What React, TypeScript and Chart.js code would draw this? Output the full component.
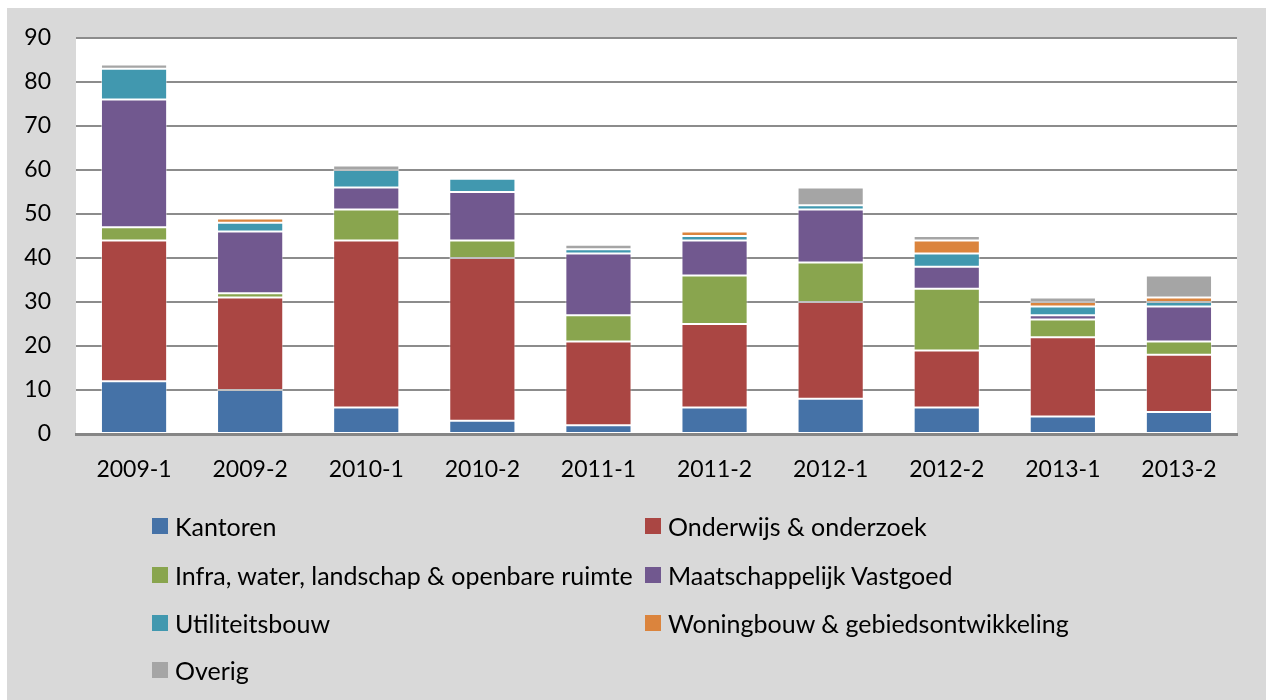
import React, { useEffect, useRef } from "react";
import { Chart, registerables } from "chart.js";

Chart.register(...registerables);

const categories = ["2009-1", "2009-2", "2010-1", "2010-2", "2011-1", "2011-2", "2012-1", "2012-2", "2013-1", "2013-2"];
const kantoren = [12, 10, 6, 3, 2, 6, 8, 6, 4, 5];
const onderwijs = [32, 21, 38, 37, 19, 19, 22, 13, 18, 13];
const infra = [3, 1, 7, 4, 6, 11, 9, 14, 4, 3];
const maatschappelijk = [29, 14, 5, 11, 14, 8, 12, 5, 1, 8];
const utiliteitsbouw = [7, 2, 4, 3, 1, 1, 1, 3, 2, 1];
const woningbouw = [0, 1, 0, 0, 0, 1, 0, 3, 1, 1];
const overig = [1, 0, 1, 0, 1, 0, 4, 1, 1, 5];
const yTicks = [0, 10, 20, 30, 40, 50, 60, 70, 80, 90];

const seriesNames = [
  "Kantoren",
  "Onderwijs & onderzoek",
  "Infra, water, landschap & openbare ruimte",
  "Maatschappelijk Vastgoed",
  "Utiliteitsbouw",
  "Woningbouw & gebiedsontwikkeling",
  "Overig",
];
const seriesValues = [kantoren, onderwijs, infra, maatschappelijk, utiliteitsbouw, woningbouw, overig];
const seriesColors = ["#4572a7", "#aa4643", "#89a54e", "#71588f", "#4198af", "#db843d", "#a5a5a5"];

const FONT = "Lato, 'Open Sans', sans-serif";

const plotBg = {
  id: "plotBg",
  beforeDraw(chart: any) {
    const { ctx, chartArea } = chart;
    ctx.save();
    ctx.fillStyle = "#ffffff";
    ctx.fillRect(chartArea.left, chartArea.top, chartArea.right - chartArea.left, chartArea.bottom - chartArea.top);
    ctx.restore();
  },
};

// legend positions (container coords)
const legendPos = [
  { left: 145, top: 510 },
  { left: 638, top: 510 },
  { left: 145, top: 559 },
  { left: 638, top: 559 },
  { left: 145, top: 607 },
  { left: 638, top: 607 },
  { left: 145, top: 654 },
];

export default function App() {
  const canvasRef = useRef<HTMLCanvasElement | null>(null);

  useEffect(() => {
    const canvas = canvasRef.current;
    if (!canvas) return;
    const chart = new Chart(canvas, {
      type: "bar",
      data: {
        labels: categories,
        datasets: seriesNames.map((name, i) => ({
          label: name,
          data: seriesValues[i],
          backgroundColor: seriesColors[i],
          borderColor: "rgba(255,255,255,0.45)",
          borderWidth: 1,
          borderSkipped: false,
          barPercentage: 0.57,
          categoryPercentage: 1,
        })),
      },
      options: {
        animation: false,
        responsive: false,
        maintainAspectRatio: false,
        layout: { padding: { top: 30, right: 29, left: 0, bottom: 0 } },
        plugins: {
          legend: { display: false },
          tooltip: { enabled: false },
        },
        scales: {
          x: {
            stacked: true,
            grid: { display: false, drawTicks: false },
            border: { display: true, color: "#868686", width: 3 },
            ticks: {
              color: "#000000",
              font: { family: FONT, size: 23 },
              padding: 22,
              maxRotation: 0,
            },
            afterFit(scale: any) {
              scale.height = 266;
            },
          },
          y: {
            stacked: true,
            min: 0,
            max: 90,
            afterBuildTicks(scale: any) {
              scale.ticks = yTicks.map((v) => ({ value: v }));
            },
            grid: { color: "#8c8c8c", lineWidth: 2, drawTicks: false },
            border: { display: false },
            ticks: {
              color: "#000000",
              font: { family: FONT, size: 23 },
              padding: 25,
            },
            afterFit(scale: any) {
              scale.width = 69;
              scale.paddingTop = 14;
              scale.paddingBottom = 14;
            },
          },
        },
      },
      plugins: [plotBg],
    });
    return () => chart.destroy();
  }, []);

  return (
    <div
      style={{
        position: "fixed",
        left: 7,
        top: 8,
        width: 1259,
        height: 692,
        background: "#d9d9d9",
        fontFamily: FONT,
      }}
    >
      <style>{"html { overflow: hidden; }"}</style>
      <canvas ref={canvasRef} width={1259} height={692} style={{ display: "block", width: 1259, height: 692 }} />
      {seriesNames.map((name, i) => (
        <div
          key={name}
          style={{
            position: "absolute",
            left: legendPos[i].left,
            top: legendPos[i].top,
            height: 16,
            display: "flex",
            alignItems: "center",
            whiteSpace: "nowrap",
            fontSize: 25,
            color: "#000",
          }}
        >
          <span style={{ display: "inline-block", width: 16, height: 16, background: seriesColors[i], marginRight: 7 }} />
          <span style={{ lineHeight: "16px" }}>{name}</span>
        </div>
      ))}
    </div>
  );
}
